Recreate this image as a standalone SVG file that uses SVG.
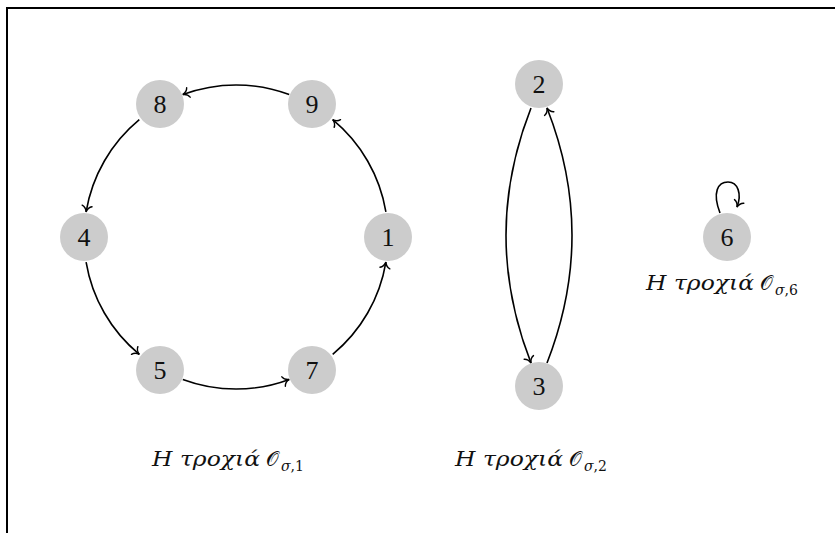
<svg xmlns="http://www.w3.org/2000/svg" width="835" height="533" viewBox="0 0 835 533">
  <style>
    .node circle { fill: #cccccc; stroke: none; }
    .node text { font-family: "Liberation Serif", "DejaVu Serif", serif; font-size: 26px; fill: #111; text-anchor: middle; }
    .edge { fill: none; stroke: #000; stroke-width: 1.6; marker-end: url(#arr); }
    .lbl { font-family: "DejaVu Serif", "Liberation Serif", serif; font-size: 20px; fill: #111; }
    .it { font-style: italic; }
    .sub { font-size: 14px; }
  </style>
  <defs>
    <marker id="arr" markerUnits="userSpaceOnUse" markerWidth="14" markerHeight="14" viewBox="-8 -7 10 14" refX="0" refY="0" orient="auto">
      <path d="M -6,-5 C -5,-2 -2,-0.5 0,0 C -2,0.5 -5,2 -6,5" fill="none" stroke="#000" stroke-width="1.4" stroke-linecap="round"/>
    </marker>
  </defs>
  <rect width="835" height="533" fill="#fff"/>
  <path d="M 7 533 V 8 H 835" fill="none" stroke="#000" stroke-width="2"/>

  <g id="connectors">
    <path class="edge" d="M 385.9 211.9 A 152 152 0 0 0 332.7 119.7"/>
    <path class="edge" d="M 289.2 94.6 A 152 152 0 0 0 182.8 94.6"/>
    <path class="edge" d="M 139.3 119.7 A 152 152 0 0 0 86.1 211.9"/>
    <path class="edge" d="M 86.1 262.1 A 152 152 0 0 0 139.3 354.3"/>
    <path class="edge" d="M 182.8 379.4 A 152 152 0 0 0 289.2 379.4"/>
    <path class="edge" d="M 332.7 354.3 A 152 152 0 0 0 385.9 262.1"/>
    <path class="edge" d="M 531 108 Q 481 235 531 363"/>
    <path class="edge" d="M 547 363 Q 597 235 547 108"/>
    <path class="edge" d="M 720 213 C 712 192, 718 182, 728 182 C 738 182, 742 194, 737 207"/>
  </g>

  <g id="node-1" class="node"><circle cx="388" cy="237" r="24"/><text x="388" y="246">1</text></g>
  <g id="node-9" class="node"><circle cx="312" cy="104" r="24"/><text x="312" y="113">9</text></g>
  <g id="node-8" class="node"><circle cx="160" cy="104" r="24"/><text x="160" y="113">8</text></g>
  <g id="node-4" class="node"><circle cx="84" cy="237" r="24"/><text x="84" y="246">4</text></g>
  <g id="node-5" class="node"><circle cx="160" cy="370" r="24"/><text x="160" y="379">5</text></g>
  <g id="node-7" class="node"><circle cx="312" cy="370" r="24"/><text x="312" y="379">7</text></g>
  <g id="node-2" class="node"><circle cx="539" cy="84" r="24"/><text x="539" y="93">2</text></g>
  <g id="node-3" class="node"><circle cx="539" cy="386" r="24"/><text x="539" y="395">3</text></g>
  <g id="node-6" class="node"><circle cx="727" cy="237" r="24"/><text x="727" y="246">6</text></g>

  <g id="label-1" class="lbl">
    <text x="152" y="466" class="it" textLength="108" lengthAdjust="spacingAndGlyphs">Η τροχιά</text>
    <text x="266" y="466">𝒪</text>
    <text x="281" y="471" class="sub"><tspan class="it">σ</tspan>,1</text>
  </g>
  <g id="label-2" class="lbl">
    <text x="455" y="466" class="it" textLength="108" lengthAdjust="spacingAndGlyphs">Η τροχιά</text>
    <text x="569" y="466">𝒪</text>
    <text x="584" y="471" class="sub"><tspan class="it">σ</tspan>,2</text>
  </g>
  <g id="label-6" class="lbl">
    <text x="646" y="290" class="it" textLength="108" lengthAdjust="spacingAndGlyphs">Η τροχιά</text>
    <text x="760" y="290">𝒪</text>
    <text x="775" y="295" class="sub"><tspan class="it">σ</tspan>,6</text>
  </g>
</svg>
